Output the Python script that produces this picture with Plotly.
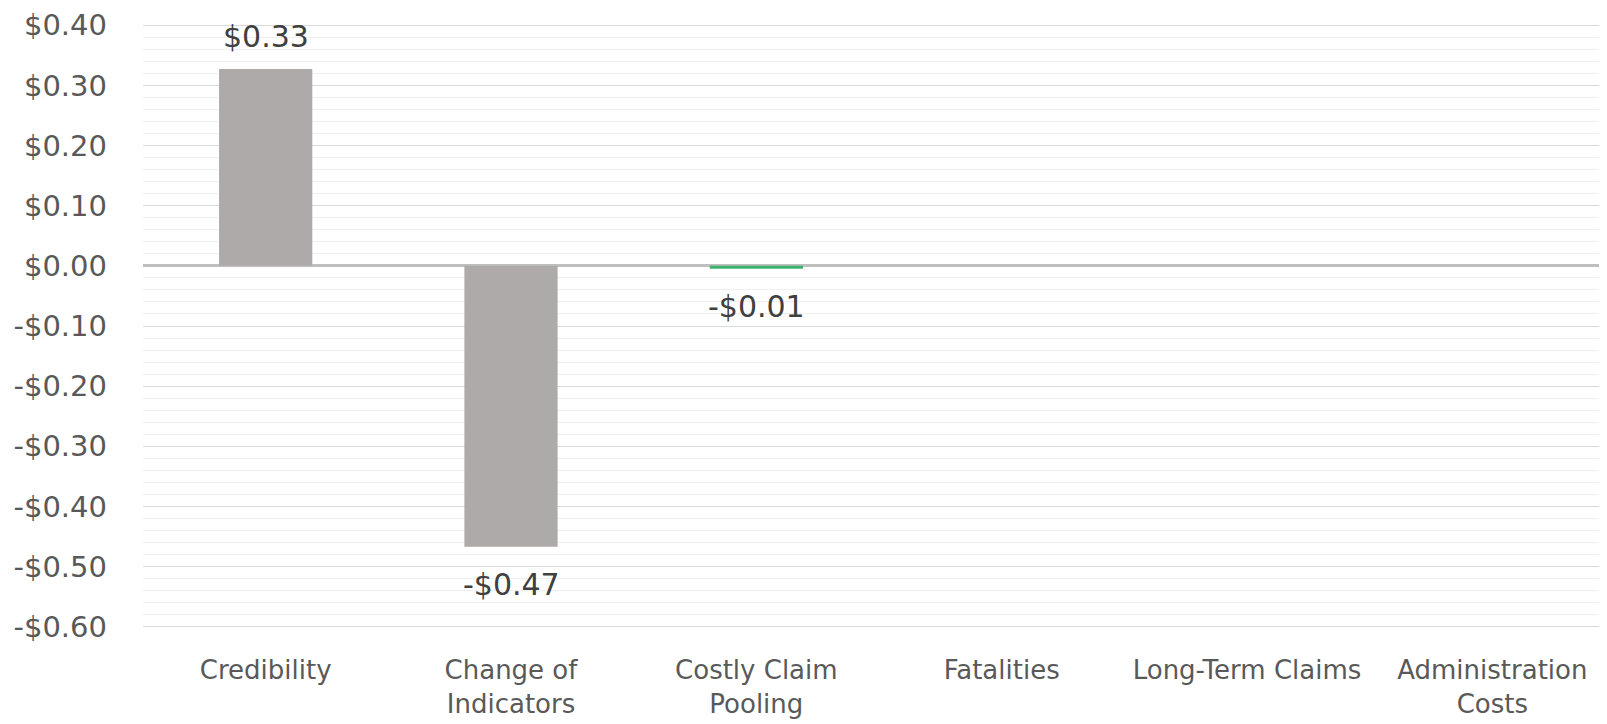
import plotly.graph_objects as go

categories = ["Credibility", "Change of<br>Indicators", "Costly Claim<br>Pooling",
              "Fatalities", "Long-Term Claims", "Administration<br>Costs"]
values = [0.327, -0.467, -0.005, None, None, None]
bar_colors = ["#AEAAA9", "#AEAAA9", "#3DB36B", "#AEAAA9", "#AEAAA9", "#AEAAA9"]
tick_vals = [0.4, 0.3, 0.2, 0.1, 0.0, -0.1, -0.2, -0.3, -0.4, -0.5, -0.6]


def money(v):
    s = f"${abs(v):.2f}"
    return "-" + s if v < 0 else s


tick_text = [money(v) for v in tick_vals]

FONT = "DejaVu Sans"

fig = go.Figure()
fig.add_trace(go.Bar(
    x=categories, y=values, marker_color=bar_colors, marker_line_width=0,
    hoverinfo="skip",
))

for c, v in zip(categories, values):
    if v is None:
        continue
    fig.add_annotation(
        x=c, y=v, text=money(v), showarrow=False,
        yanchor="middle", yshift=33 if v >= 0 else -38,
        font=dict(family=FONT, size=30, color="#404040"),
    )

fig.update_layout(
    width=1607, height=724,
    margin=dict(l=135, r=0, t=16, b=104, autoexpand=False),
    paper_bgcolor="white", plot_bgcolor="white",
    bargap=0.62, showlegend=False,
    font=dict(family=FONT, color="#595959"),
)
fig.update_yaxes(
    range=[-0.602, 0.402], tickvals=tick_vals, ticktext=tick_text,
    showgrid=True, gridcolor="#D9D9D9", gridwidth=1,
    minor=dict(dtick=0.02, tick0=0, showgrid=True, gridcolor="#F0F0F0", gridwidth=1),
    zeroline=True, zerolinecolor="#BFBFBF", zerolinewidth=3,
    tickfont=dict(family=FONT, size=29, color="#595959"),
    ticklabelstandoff=35, showline=False, automargin=False,
)
fig.update_xaxes(
    showgrid=False, showline=False, ticks="",
    tickfont=dict(family=FONT, size=26, color="#595959"),
    ticklabelstandoff=24, tickangle=0, automargin=False,
)

fig.write_html("out.html")
